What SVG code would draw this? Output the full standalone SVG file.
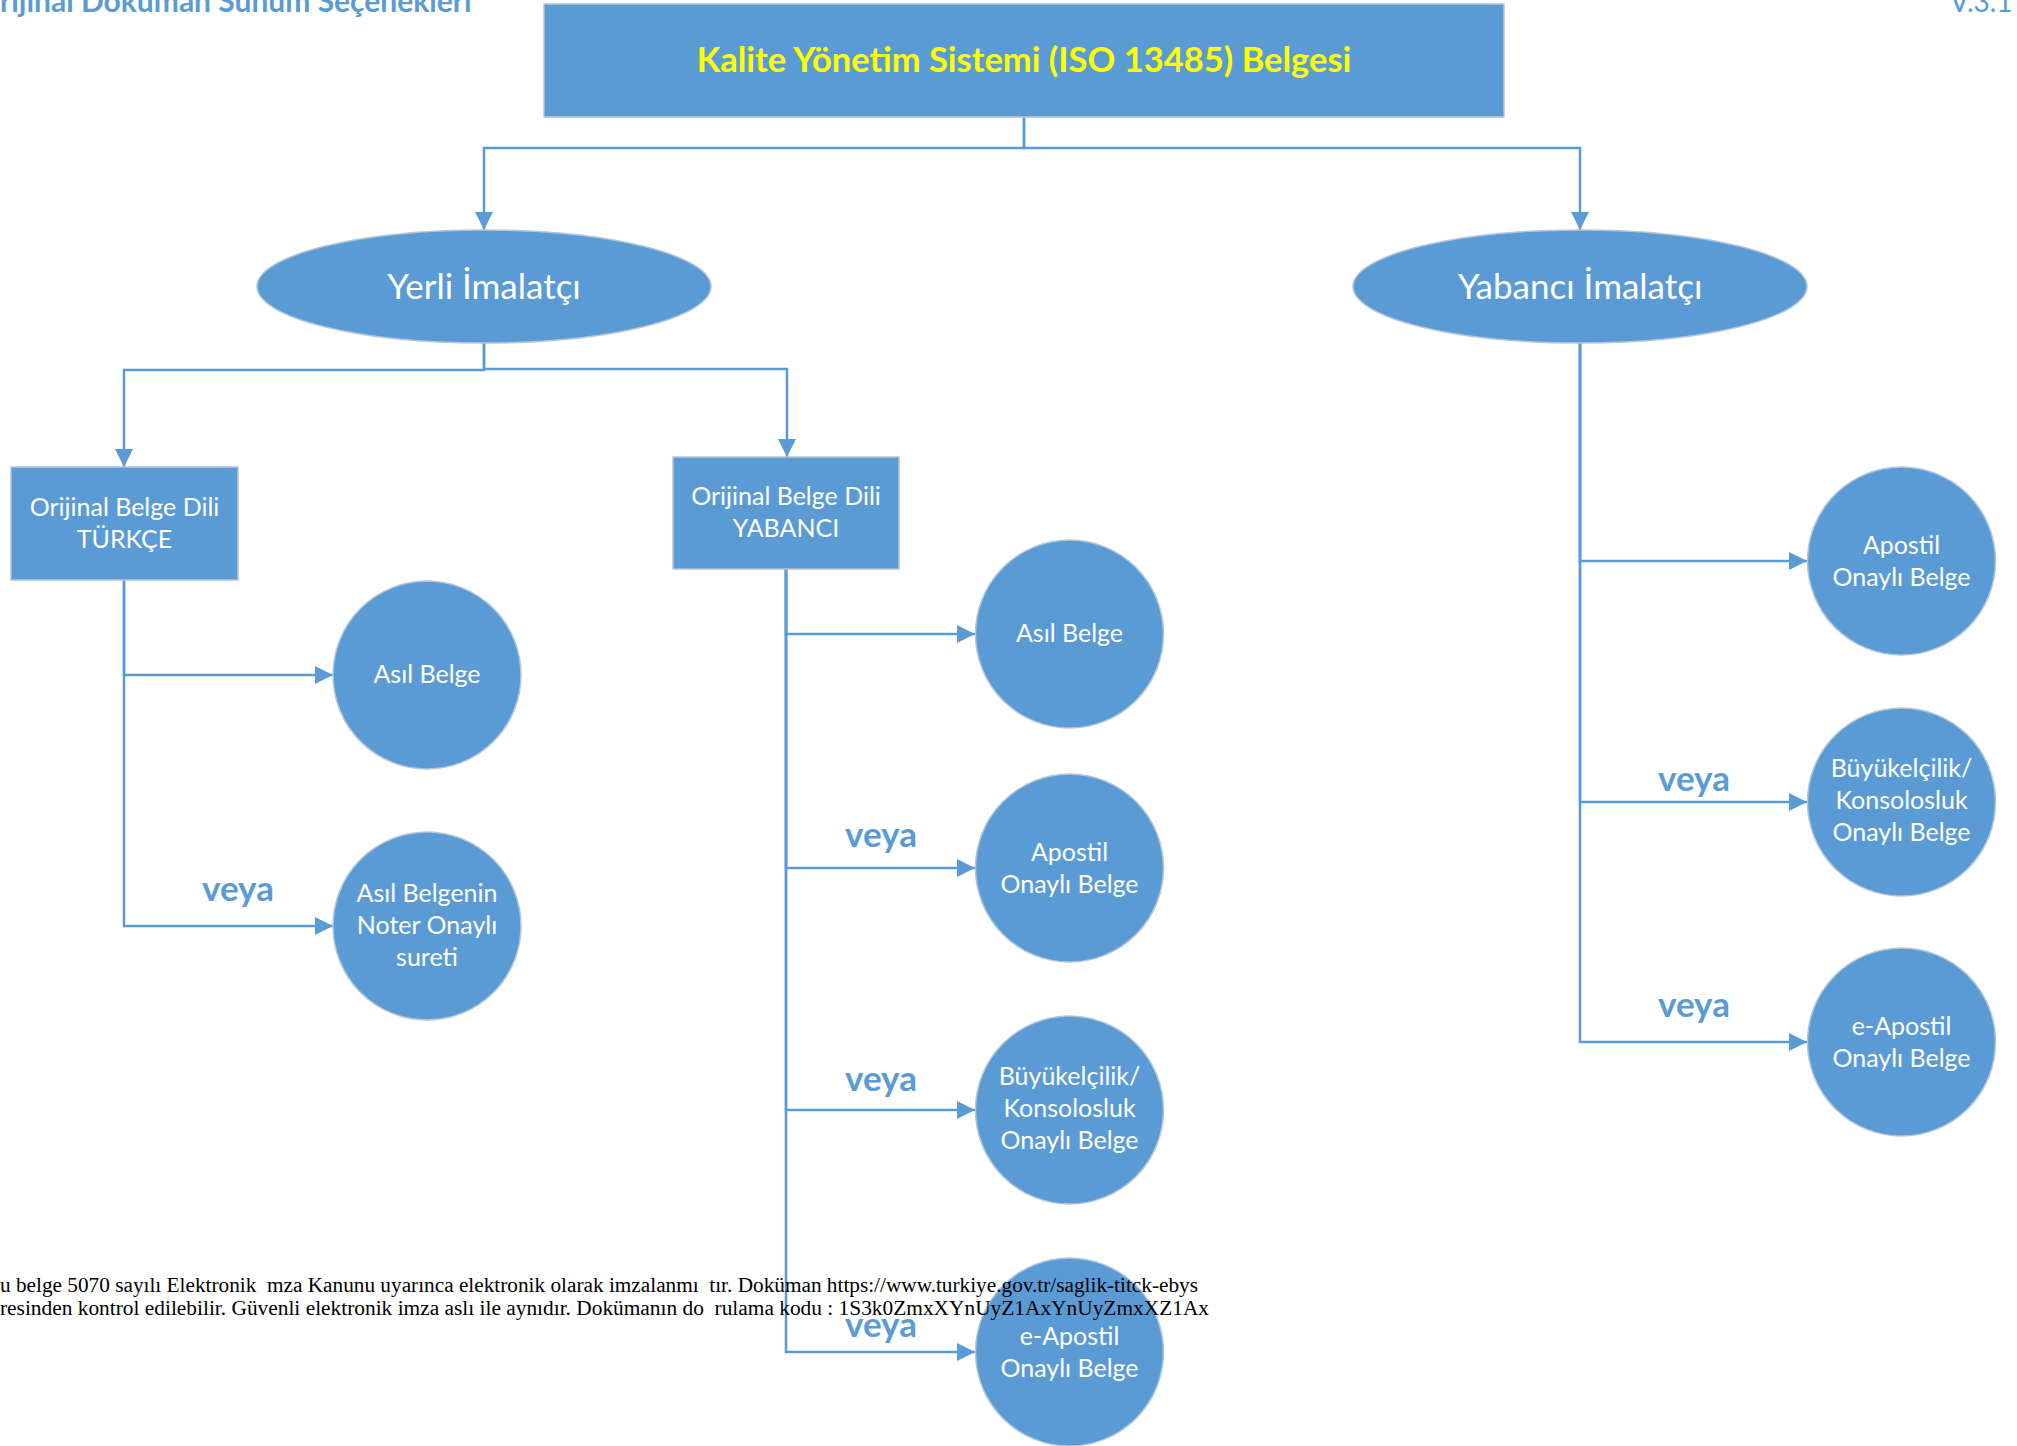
<svg xmlns="http://www.w3.org/2000/svg" width="2017" height="1446" viewBox="0 0 2017 1446">
  <style>
    .shape { fill: #5B9BD5; stroke: #B4C6D8; stroke-width: 1.5; }
    .wire { fill: none; stroke: #5B9BD5; stroke-width: 2.5; marker-end: url(#arrow); }
    .lbl { font-family: Lato, "Open Sans", sans-serif; fill: #FFFFFF; text-anchor: middle; font-size: 25px; }
    .big { font-size: 35px; }
    .veya { font-family: Lato, "Open Sans", sans-serif; font-weight: bold; font-size: 35px; fill: #5B9BD5; }
    .head { font-family: Lato, "Open Sans", sans-serif; fill: #5B9BD5; }
    .stamp { font-family: "Liberation Serif", "Times New Roman", serif; font-size: 20px; fill: #000000; white-space: pre; }
  </style>
  <defs>
    <marker id="arrow" markerUnits="userSpaceOnUse" markerWidth="18" markerHeight="18" refX="18" refY="9" orient="auto">
      <path d="M0,0 L18,9 L0,18 Z" fill="#5B9BD5"/>
    </marker>
  </defs>

  <rect width="2017" height="1446" fill="#FFFFFF"/>

  <!-- page header -->
  <text class="head" x="0" y="12" font-size="30" font-weight="bold">rijinal Doküman Sunum Seçenekleri</text>
  <text class="head" x="1950" y="12" font-size="28">V.3.1</text>

  <!-- connectors -->
  <g id="connectors">
    <path class="wire" d="M1024,117 V148 H484 V230"/>
    <path class="wire" d="M1024,117 V148 H1580 V230"/>
    <path class="wire" d="M484,343 V370 H124 V467"/>
    <path class="wire" d="M484,343 V369 H787 V457"/>
    <path class="wire" d="M124,580 V675 H333"/>
    <path class="wire" d="M124,580 V926 H333"/>
    <path class="wire" d="M786,569 V634 H975"/>
    <path class="wire" d="M786,569 V868 H975"/>
    <path class="wire" d="M786,569 V1110 H975"/>
    <path class="wire" d="M786,569 V1352 H975"/>
    <path class="wire" d="M1580,343 V561 H1807"/>
    <path class="wire" d="M1580,343 V802 H1807"/>
    <path class="wire" d="M1580,343 V1042 H1807"/>
  </g>

  <!-- "veya" labels on the alternative branches -->
  <g id="or-labels">
    <text class="veya" x="202" y="901">veya</text>
    <text class="veya" x="845" y="847">veya</text>
    <text class="veya" x="845" y="1091">veya</text>
    <text class="veya" x="845" y="1337">veya</text>
    <text class="veya" x="1658" y="791">veya</text>
    <text class="veya" x="1658" y="1017">veya</text>
  </g>

  <g id="root">
    <rect class="shape" x="544" y="4" width="960" height="113"/>
    <text x="1024" y="72" text-anchor="middle" font-family="Lato, 'Open Sans', sans-serif" font-weight="bold" font-size="34.5" fill="#FFFF00">Kalite Yönetim Sistemi (ISO 13485) Belgesi</text>
  </g>

  <g id="yerli">
    <ellipse class="shape" cx="484" cy="286.5" rx="227" ry="56.5"/>
    <text class="lbl big" x="484" y="299">Yerli İmalatçı</text>
  </g>

  <g id="yabanci">
    <ellipse class="shape" cx="1580" cy="286.5" rx="227" ry="56.5"/>
    <text class="lbl big" x="1580" y="299">Yabancı İmalatçı</text>
  </g>

  <g id="dil-turkce">
    <rect class="shape" x="11" y="467" width="227" height="113"/>
    <text class="lbl" x="124.5" y="516">Orijinal Belge Dili</text>
    <text class="lbl" x="124.5" y="548">TÜRKÇE</text>
  </g>

  <g id="dil-yabanci">
    <rect class="shape" x="673" y="457" width="226" height="112"/>
    <text class="lbl" x="786" y="505">Orijinal Belge Dili</text>
    <text class="lbl" x="786" y="537">YABANCI</text>
  </g>

  <g id="tr-asil">
    <circle class="shape" cx="427" cy="675" r="94"/>
    <text class="lbl" x="427" y="683">Asıl Belge</text>
  </g>

  <g id="tr-noter">
    <circle class="shape" cx="427" cy="926" r="94"/>
    <text class="lbl" x="427" y="902">Asıl Belgenin</text>
    <text class="lbl" x="427" y="934">Noter Onaylı</text>
    <text class="lbl" x="427" y="966">sureti</text>
  </g>

  <g id="yb-asil">
    <circle class="shape" cx="1069.5" cy="634" r="94"/>
    <text class="lbl" x="1069.5" y="642">Asıl Belge</text>
  </g>

  <g id="yb-apostil">
    <circle class="shape" cx="1069.5" cy="868" r="94"/>
    <text class="lbl" x="1069.5" y="861">Apostil</text>
    <text class="lbl" x="1069.5" y="893">Onaylı Belge</text>
  </g>

  <g id="yb-konsolosluk">
    <circle class="shape" cx="1069.5" cy="1110" r="94"/>
    <text class="lbl" x="1069.5" y="1085">Büyükelçilik/</text>
    <text class="lbl" x="1069.5" y="1117">Konsolosluk</text>
    <text class="lbl" x="1069.5" y="1149">Onaylı Belge</text>
  </g>

  <g id="yb-eapostil">
    <circle class="shape" cx="1069.5" cy="1352" r="94"/>
    <text class="lbl" x="1069.5" y="1345">e-Apostil</text>
    <text class="lbl" x="1069.5" y="1377">Onaylı Belge</text>
  </g>

  <g id="ym-apostil">
    <circle class="shape" cx="1901.5" cy="561" r="94"/>
    <text class="lbl" x="1901.5" y="554">Apostil</text>
    <text class="lbl" x="1901.5" y="586">Onaylı Belge</text>
  </g>

  <g id="ym-konsolosluk">
    <circle class="shape" cx="1901.5" cy="802" r="94"/>
    <text class="lbl" x="1901.5" y="777">Büyükelçilik/</text>
    <text class="lbl" x="1901.5" y="809">Konsolosluk</text>
    <text class="lbl" x="1901.5" y="841">Onaylı Belge</text>
  </g>

  <g id="ym-eapostil">
    <circle class="shape" cx="1901.5" cy="1042" r="94"/>
    <text class="lbl" x="1901.5" y="1035">e-Apostil</text>
    <text class="lbl" x="1901.5" y="1067">Onaylı Belge</text>
  </g>

  <!-- e-signature footer stamp, printed over the drawing -->
  <text class="stamp" x="0" y="1292" textLength="1198" lengthAdjust="spacingAndGlyphs">u belge 5070 sayılı Elektronik  mza Kanunu uyarınca elektronik olarak imzalanmı  tır. Doküman https://www.turkiye.gov.tr/saglik-titck-ebys</text>
  <text class="stamp" x="0" y="1315" textLength="1209" lengthAdjust="spacingAndGlyphs">resinden kontrol edilebilir. Güvenli elektronik imza aslı ile aynıdır. Dokümanın do  rulama kodu : 1S3k0ZmxXYnUyZ1AxYnUyZmxXZ1Ax</text>
</svg>
